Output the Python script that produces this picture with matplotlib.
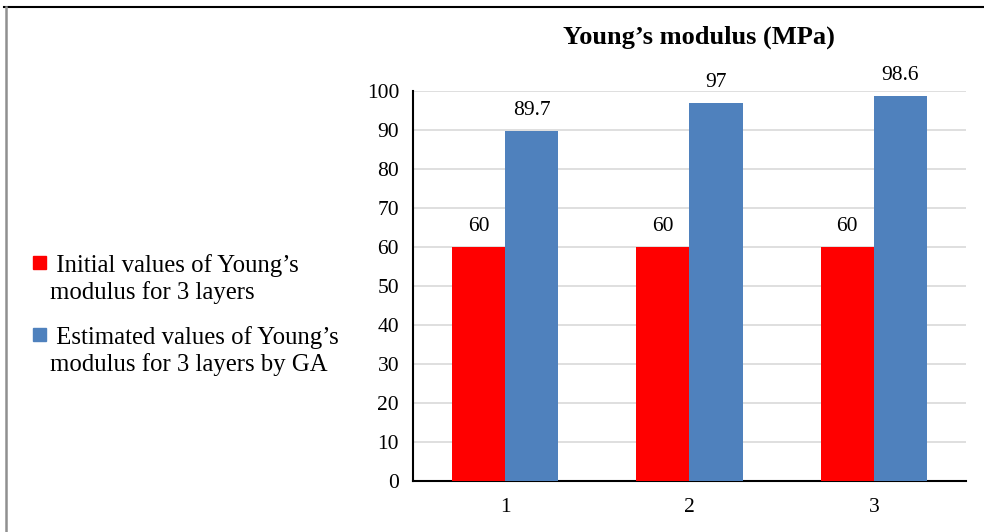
import numpy as np
import matplotlib
matplotlib.use('Agg')
import matplotlib.pyplot as plt
from matplotlib.lines import Line2D
from matplotlib.patches import Rectangle

plt.rcParams['font.family'] = 'Liberation Serif'

layers    = ['1', '2', '3']
initial   = [60, 60, 60]
estimated = [89.7, 97, 98.6]
labels    = [" Initial values of Young\u2019s\nmodulus for 3 layers",
             " Estimated values of Young\u2019s\nmodulus for 3 layers by GA"]
colors    = ['#FF0000', '#4F81BD']

fig = plt.figure(figsize=(9.84, 5.32), dpi=100)
ax = fig.add_axes([0.4197, 0.0959, 0.5620, 0.7331])

x = np.arange(len(layers))
w = 0.288
b1 = ax.bar(x - w/2, initial, w, color=colors[0], zorder=3)
b2 = ax.bar(x + w/2, estimated, w, color=colors[1], zorder=3)

for bars, vals in [(b1, initial), (b2, estimated)]:
    for bar, v in zip(bars, vals):
        ax.text(bar.get_x() + bar.get_width()/2, v + 5.3, f'{v:g}',
                ha='center', va='center', fontsize=15.5)

ax.set_xlim(-0.5, 2.5)
ax.set_ylim(0, 100)
ax.set_yticks(range(0, 101, 10))
ax.set_xticks(x)
ax.set_xticklabels(layers)
ax.tick_params(axis='both', length=0, labelsize=15.5)
ax.tick_params(axis='x', pad=12)
ax.tick_params(axis='y', pad=10)
ax.yaxis.grid(True, color='#d9d9d9', linewidth=1.2, zorder=0)
ax.set_axisbelow(True)
for s in ['top', 'right']:
    ax.spines[s].set_visible(False)
for s in ['left', 'bottom']:
    ax.spines[s].set_linewidth(1.5)
    ax.spines[s].set_color('black')

fig.text(0.71, 1 - 37/532, 'Young\u2019s modulus (MPa)', ha='center', va='center',
         fontsize=19, fontweight='bold')

# legend: square marker aligned with the first line of each label
for i, (lab, c) in enumerate(zip(labels, colors)):
    yc = 1 - (262 + 72*i)/532
    fig.add_artist(Rectangle((33/984, yc - 6.5/532), 13/984, 13/532,
                             transform=fig.transFigure, color=c))
    fig.text(50/984, yc + 8/532, lab, ha='left', va='top', fontsize=17.8,
             linespacing=1.2)

# frame around the figure
fig.add_artist(Line2D([0.004, 1.0], [0.9868, 0.9868], transform=fig.transFigure,
                      color='black', linewidth=1.5))
fig.add_artist(Line2D([0.0066, 0.0066], [0.0, 0.9868], transform=fig.transFigure,
                      color='#909090', linewidth=1.8))

fig.savefig('out.png', dpi=100)
